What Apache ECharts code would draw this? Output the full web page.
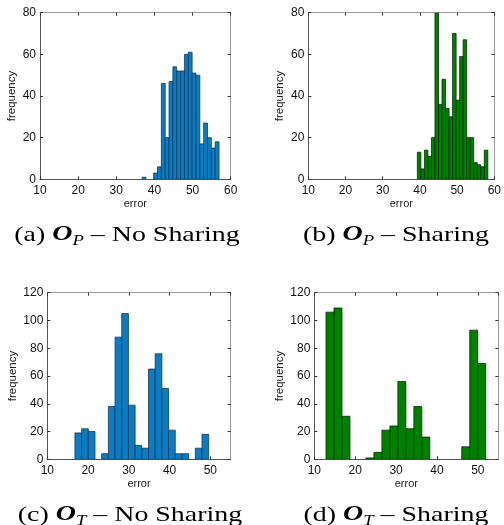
<!DOCTYPE html>
<html>
<head>
<meta charset="utf-8">
<script src="https://cdn.jsdelivr.net/npm/echarts@6/dist/echarts.min.js"></script>
<style>html,body{margin:0;padding:0;background:#fff}#c{width:504px;height:525px}</style>
</head>
<body>
<div id="c"></div>
<script>
// ---- data (histogram bins: first edge, bin width, counts) ----
const aStart = 36.78, aWidth = 1.008;
const aCounts = [1, 0, 0, 3, 6, 46, 20, 47, 54, 52, 52, 60, 61, 51, 50, 17, 27, 20, 15, 18];
const bStart = 39.31, bWidth = 0.947;
const bCounts = [13, 5, 14, 11, 20, 80, 36, 48, 34, 30, 70, 38, 59, 67, 20, 20, 8, 7, 6, 14];
const cStart = 16.78, cWidth = 1.641;
const cCounts = [19, 22, 20, 0, 4, 38, 88, 105, 39, 10, 8, 65, 76, 51, 21, 4, 4, 0, 8, 18];
const dStart = 12.86, dWidth = 1.953;
const dCounts = [106, 109, 31, 0, 0, 1, 5, 21, 24, 56, 22, 38, 16, 0, 0, 0, 0, 9, 93, 69];

const xRangeTop = [10, 60], xRangeBottom = [10, 55];
const yMaxTop = 80, yMaxBottom = 120;
const xLabel = 'error', yLabel = 'frequency';
const captions = [
  ['(a) ', 'O', 'P', ' \u2013 No Sharing'],
  ['(b) ', 'O', 'P', ' \u2013 Sharing'],
  ['(c) ', 'O', 'T', ' \u2013 No Sharing'],
  ['(d) ', 'O', 'T', ' \u2013 Sharing']
];

const BLUE = '#0c7cc2', BLUE_EDGE = '#123a5c';
const GREEN = '#008000', GREEN_EDGE = '#0b2a0b';

function toBins(start, width, counts) {
  return counts.map((c, i) => [start + i * width, start + (i + 1) * width, c]);
}

const grids = [
  {left: 40, top: 12.7, width: 190.7, height: 166.6},
  {left: 308.3, top: 12.7, width: 190, height: 166.6},
  {left: 47.3, top: 292.7, width: 183.4, height: 166.6},
  {left: 314.3, top: 292.7, width: 184, height: 166.6}
];
const panels = [
  {bins: toBins(aStart, aWidth, aCounts), fill: BLUE, edge: BLUE_EDGE, xr: xRangeTop, ym: yMaxTop, yGap: 22, showMax: true},
  {bins: toBins(bStart, bWidth, bCounts), fill: GREEN, edge: GREEN_EDGE, xr: xRangeTop, ym: yMaxTop, yGap: 22, showMax: true},
  {bins: toBins(cStart, cWidth, cCounts), fill: BLUE, edge: BLUE_EDGE, xr: xRangeBottom, ym: yMaxBottom, yGap: 28, showMax: false},
  {bins: toBins(dStart, dWidth, dCounts), fill: GREEN, edge: GREEN_EDGE, xr: xRangeBottom, ym: yMaxBottom, yGap: 28, showMax: false}
];

const FONT = 'Liberation Sans, Arial, sans-serif';
const xAxis = [], yAxis = [], series = [];
panels.forEach((p, i) => {
  const tick = {show: true, inside: true, length: 3, lineStyle: {color: '#333', width: 1}};
  xAxis.push({
    type: 'value', gridIndex: i, min: p.xr[0], max: p.xr[1], interval: 10,
    name: xLabel, nameLocation: 'middle', nameGap: 19,
    nameTextStyle: {fontFamily: FONT, fontSize: 11, color: '#222'},
    axisLine: {show: true, onZero: false, lineStyle: {color: '#555', width: 1}},
    axisTick: tick, splitLine: {show: false},
    axisLabel: {fontFamily: FONT, fontSize: 12, color: '#111', margin: 5, showMaxLabel: p.showMax}
  });
  xAxis.push({
    type: 'value', gridIndex: i, min: p.xr[0], max: p.xr[1], interval: 10, position: 'top',
    axisLine: {show: true, onZero: false, lineStyle: {color: '#999', width: 1}},
    axisTick: tick, axisLabel: {show: false}, splitLine: {show: false}
  });
  yAxis.push({
    type: 'value', gridIndex: i, min: 0, max: p.ym, interval: 20,
    name: yLabel, nameLocation: 'middle', nameGap: p.yGap,
    nameTextStyle: {fontFamily: FONT, fontSize: 11.5, color: '#222'},
    axisLine: {show: true, onZero: false, lineStyle: {color: '#555', width: 1}},
    axisTick: tick, splitLine: {show: false},
    axisLabel: {fontFamily: FONT, fontSize: 12, color: '#111', margin: 4}
  });
  yAxis.push({
    type: 'value', gridIndex: i, min: 0, max: p.ym, interval: 20, position: 'right',
    axisLine: {show: true, onZero: false, lineStyle: {color: '#999', width: 1}},
    axisTick: tick, axisLabel: {show: false}, splitLine: {show: false}
  });
  series.push({
    type: 'custom', xAxisIndex: 2 * i, yAxisIndex: 2 * i,
    data: p.bins, encode: {x: [0, 1], y: 2}, clip: true,
    renderItem: function (params, api) {
      const v = api.value(2);
      if (!v) return null;
      const p0 = api.coord([api.value(0), v]);
      const p1 = api.coord([api.value(1), 0]);
      return {
        type: 'rect',
        shape: {x: p0[0], y: p0[1], width: p1[0] - p0[0], height: p1[1] - p0[1]},
        style: {fill: p.fill, stroke: p.edge, lineWidth: 0.8}
      };
    }
  });
});

const capPos = [[127, 235], [396, 235], [130, 515], [396, 515]];
const SERIF = 'Liberation Serif, Times New Roman, serif';
const graphic = captions.map((c, i) => ({
  type: 'text', x: capPos[i][0], y: capPos[i][1], scaleX: 1.33,
  style: {
    text: '{m|' + c[0] + '}{o|' + c[1] + '}{s|' + c[2] + '}{m|' + c[3] + '}',
    align: 'center', verticalAlign: 'middle',
    rich: {
      m: {fontFamily: SERIF, fontSize: 21, color: '#000', lineHeight: 26},
      o: {fontFamily: SERIF, fontSize: 21, fontWeight: 'bold', fontStyle: 'italic', color: '#000', lineHeight: 26},
      s: {fontFamily: SERIF, fontSize: 14, fontStyle: 'italic', color: '#000', lineHeight: 14, verticalAlign: 'bottom'}
    }
  }
}));

const chart = echarts.init(document.getElementById('c'), null, {renderer: 'canvas'});
chart.setOption({
  animation: false,
  backgroundColor: '#fff',
  grid: grids,
  xAxis: xAxis,
  yAxis: yAxis,
  series: series,
  graphic: graphic
});
</script>
</body>
</html>
